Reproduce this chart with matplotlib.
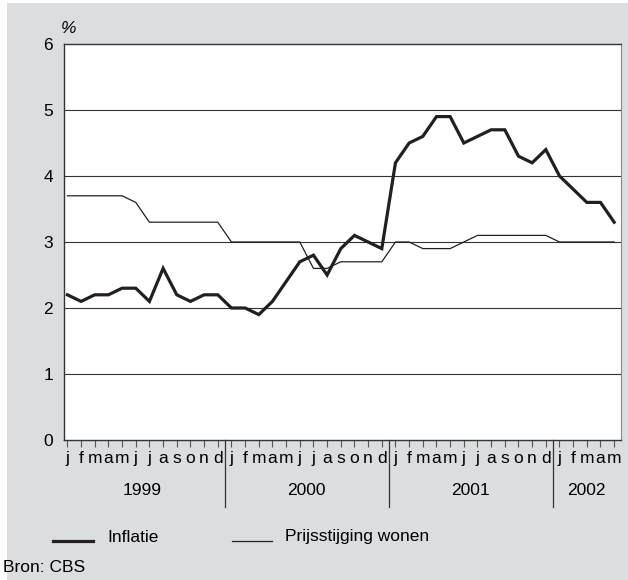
import matplotlib
matplotlib.use("Agg")
import matplotlib.pyplot as plt
import matplotlib.transforms as mtransforms
from matplotlib.patches import Rectangle
import numpy as np

plt.rcParams.update({"font.family": ["Liberation Sans", "DejaVu Sans"], "font.size": 12.5})

# monthly series, jan 1999 .. may 2002
inflatie = [2.2, 2.1, 2.2, 2.2, 2.3, 2.3, 2.1, 2.6, 2.2, 2.1, 2.2, 2.2,
            2.0, 2.0, 1.9, 2.1, 2.4, 2.7, 2.8, 2.5, 2.9, 3.1, 3.0, 2.9,
            4.2, 4.5, 4.6, 4.9, 4.9, 4.5, 4.6, 4.7, 4.7, 4.3, 4.2, 4.4,
            4.0, 3.8, 3.6, 3.6, 3.3]
wonen = [3.7, 3.7, 3.7, 3.7, 3.7, 3.6, 3.3, 3.3, 3.3, 3.3, 3.3, 3.3,
         3.0, 3.0, 3.0, 3.0, 3.0, 3.0, 2.6, 2.6, 2.7, 2.7, 2.7, 2.7,
         3.0, 3.0, 2.9, 2.9, 2.9, 3.0, 3.1, 3.1, 3.1, 3.1, 3.1, 3.1,
         3.0, 3.0, 3.0, 3.0, 3.0]
months = list("jfmamjjasond")
years = ["1999", "2000", "2001", "2002"]

BG = "#dcdddf"
INK = "#231f20"

fig = plt.figure(figsize=(6.28, 5.8), dpi=100, facecolor="white")
fig.patches.append(Rectangle((7 / 628, 0), 1, 577 / 580, transform=fig.transFigure,
                             facecolor=BG, edgecolor="none", zorder=-10))
ax = fig.add_axes([64 / 628, 1 - 440 / 580, 557 / 628, 396 / 580])
ax.set_facecolor("white")

x = np.arange(len(inflatie))
ax.plot(x, wonen, color=INK, lw=0.9, zorder=3)
ax.plot(x, inflatie, color=INK, lw=2.3, zorder=4, solid_joinstyle="miter")

ax.set_ylim(0, 6)
ax.set_xlim(-0.25, len(inflatie) - 0.5)
ax.set_yticks(range(7))
for v in range(1, 6):
    ax.axhline(v, color="#333333", lw=0.8, zorder=1)

ax.set_xticks(x)
ax.set_xticklabels([months[i % 12] for i in x])
ax.tick_params(axis="x", direction="out", length=5, width=0.8, color="#555555", pad=3)
ax.tick_params(axis="y", length=0, pad=8)
for side in ["left", "bottom", "top"]:
    ax.spines[side].set_color("#333333")
    ax.spines[side].set_linewidth(1.0)
ax.spines["right"].set_color("#888888")

# year separators and labels under the axis
trans = mtransforms.blended_transform_factory(ax.transData, ax.transAxes)
for k in range(1, len(years)):
    xs = 12 * k - 0.5
    ax.plot([xs, xs], [0, -0.17], color="#333333", lw=0.9, transform=trans, clip_on=False)
for k, yr in enumerate(years):
    start = 12 * k - 0.5
    end = min(12 * k + 11.5, len(inflatie) - 0.5)
    ax.text((start + end) / 2, -0.128, yr, transform=trans, ha="center", va="center")

ax.text(-0.005, 1.038, "%", transform=ax.transAxes, style="italic", ha="left", va="center")

# title, clipped at the top edge like the source
fig.text(133 / 628, 1.0065, "Inflatie en prijsstijging wonen", fontweight="bold",
         fontsize=13, ha="left", va="baseline")

# legend drawn by hand
ly = 1 - 541 / 580
ty = 1 - 537 / 580
fig.add_artist(plt.Line2D([53 / 628, 93 / 628], [ly, ly], color=INK, lw=2.3))
fig.text(107 / 628, ty, "Inflatie", ha="left", va="center")
fig.add_artist(plt.Line2D([232 / 628, 272 / 628], [ly, ly], color=INK, lw=0.9))
fig.text(285 / 628, ty, "Prijsstijging wonen", ha="left", va="center")

fig.text(3 / 628, 1 - 568 / 580, "Bron: CBS", ha="left", va="center")

fig.savefig("out.png", dpi=100, facecolor=fig.get_facecolor())
